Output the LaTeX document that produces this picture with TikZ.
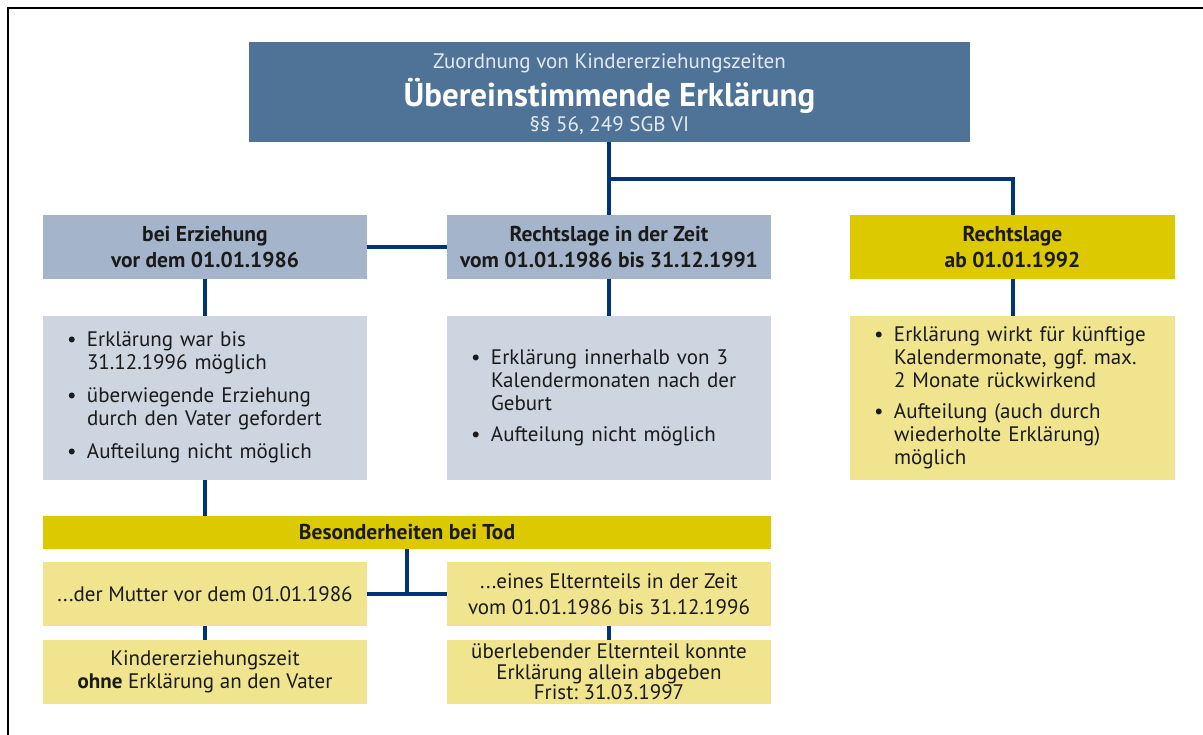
\documentclass[tikz,border=0pt]{standalone}
\usepackage{fontspec}
\setmainfont{PT Sans}
\frenchspacing
\definecolor{hdrblue}{HTML}{4E7397}
\definecolor{midblue}{HTML}{A4B5CB}
\definecolor{lightblue}{HTML}{CDD5E1}
\definecolor{olive}{HTML}{DCC900}
\definecolor{lightyel}{HTML}{F0E48F}
\definecolor{navy}{HTML}{00347A}
\definecolor{paletxt}{HTML}{E4EAF1}
\definecolor{txt}{HTML}{1A1A1A}
\newcommand{\rtext}{\fontsize{21}{23}\selectfont}
\newcommand{\btext}{\fontsize{21.5}{26}\selectfont\bfseries}
\newcommand{\bul}{\makebox[20pt][l]{\textbullet}}
\begin{document}
\begin{tikzpicture}[x=1pt,y=-1pt,
  boxbase/.style={draw=none,inner sep=0pt,outer sep=0pt,text=txt},
  headbox/.style={boxbase,minimum width=324pt,minimum height=64pt,align=center,font=\btext},
  listbox/.style={boxbase,fill=lightblue,text width=276pt,inner xsep=24pt,minimum height=164pt,align=left,font=\rtext},
  plainbox/.style={boxbase,fill=lightyel,minimum width=324pt,minimum height=64pt,align=center,font=\rtext},
  conn/.style={draw=navy,line width=4pt}]
\useasboundingbox (0,0) rectangle (1203,735);
\fill[white] (0,0) rectangle (1203,735);
\draw[line width=2.5pt,black] (8,735) -- (8,8) -- (1203,8);

% top box
\node[boxbase,fill=hdrblue,minimum width=721pt,minimum height=100pt] (top) at (609.5,92) {};
\node[anchor=base,text=paletxt,font=\fontsize{21}{24}\selectfont,inner sep=0pt] (t1) at (609.5,69) {Zuordnung von Kindererziehungszeiten};
\node[anchor=base,text=white,font=\fontsize{33}{36}\selectfont\bfseries,inner sep=0pt] (t2) at (609.5,107) {Übereinstimmende Erklärung};
\node[anchor=base,text=paletxt,font=\fontsize{21}{24}\selectfont,inner sep=0pt] (t3) at (609.5,132) {§§ 56, 249 SGB VI};

% header row
\node[headbox,fill=midblue] (A) at (205,247) {bei Erziehung\\vor dem 01.01.1986};
\node[headbox,fill=midblue] (B) at (609,247) {Rechtslage in der Zeit\\vom 01.01.1986 bis 31.12.1991};
\node[headbox,fill=olive,minimum width=325pt] (C) at (1012.5,247) {Rechtslage\\ab 01.01.1992};

% list row
\node[listbox] (D) at (205,398) {\begin{tabular}{@{}l@{}l@{}}
\bul & Erklärung war bis\\
 & 31.12.1996 möglich\\[10pt]
\bul & überwiegende Erziehung\\
 & durch den Vater gefordert\\[10pt]
\bul & Aufteilung nicht möglich
\end{tabular}};
\node[listbox] (E) at (609,398) {\begin{tabular}{@{}l@{}l@{}}
\bul & Erklärung innerhalb von 3\\
 & Kalendermonaten nach der\\
 & Geburt\\[8pt]
\bul & Aufteilung nicht möglich
\end{tabular}};
\node[listbox,fill=lightyel,text width=277pt] (F) at (1012.5,398) {\begin{tabular}{@{}l@{}l@{}}
\bul & Erklärung wirkt für künftige\\
 & Kalendermonate, ggf. max.\\
 & 2 Monate rückwirkend\\[8pt]
\bul & Aufteilung (auch durch\\
 & wiederholte Erklärung)\\
 & möglich
\end{tabular}};

% Besonderheiten
\node[boxbase,fill=olive,minimum width=728pt,minimum height=33pt,font=\btext] (G) at (407,532.5) {Besonderheiten bei Tod};
\node[plainbox] (H) at (205,594) {...der Mutter vor dem 01.01.1986};
\node[plainbox,font=\fontsize{21}{26}\selectfont] (I) at (609,594) {...eines Elternteils in der Zeit\\vom 01.01.1986 bis 31.12.1996};
\node[plainbox] (J) at (205,672) {Kindererziehungszeit\\\textbf{ohne} Erklärung an den Vater};
\node[plainbox,font=\fontsize{21}{20.5}\selectfont] (K) at (609,672) {überlebender Elternteil konnte\\Erklärung allein abgeben\\Frist: 31.03.1997};

% connectors
\coordinate (j1) at (609,179);
\draw[conn] (top.south -| B.north) -- (B.north);
\draw[conn] (j1) -| (C.north);
\draw[conn] (A.east) -- (B.west);
\draw[conn] (A.south) -- (D.north);
\draw[conn] (B.south) -- (E.north);
\draw[conn] (C.south) -- (F.north);
\draw[conn] (D.south) -- (D.south |- G.north);
\draw[conn] (G.south) -- (G.south |- H.east);
\draw[conn] (H.east) -- (I.west);
\draw[conn] (H.south) -- (J.north);
\draw[conn] (I.south) -- (I.south |- K.north);
\end{tikzpicture}
\end{document}
